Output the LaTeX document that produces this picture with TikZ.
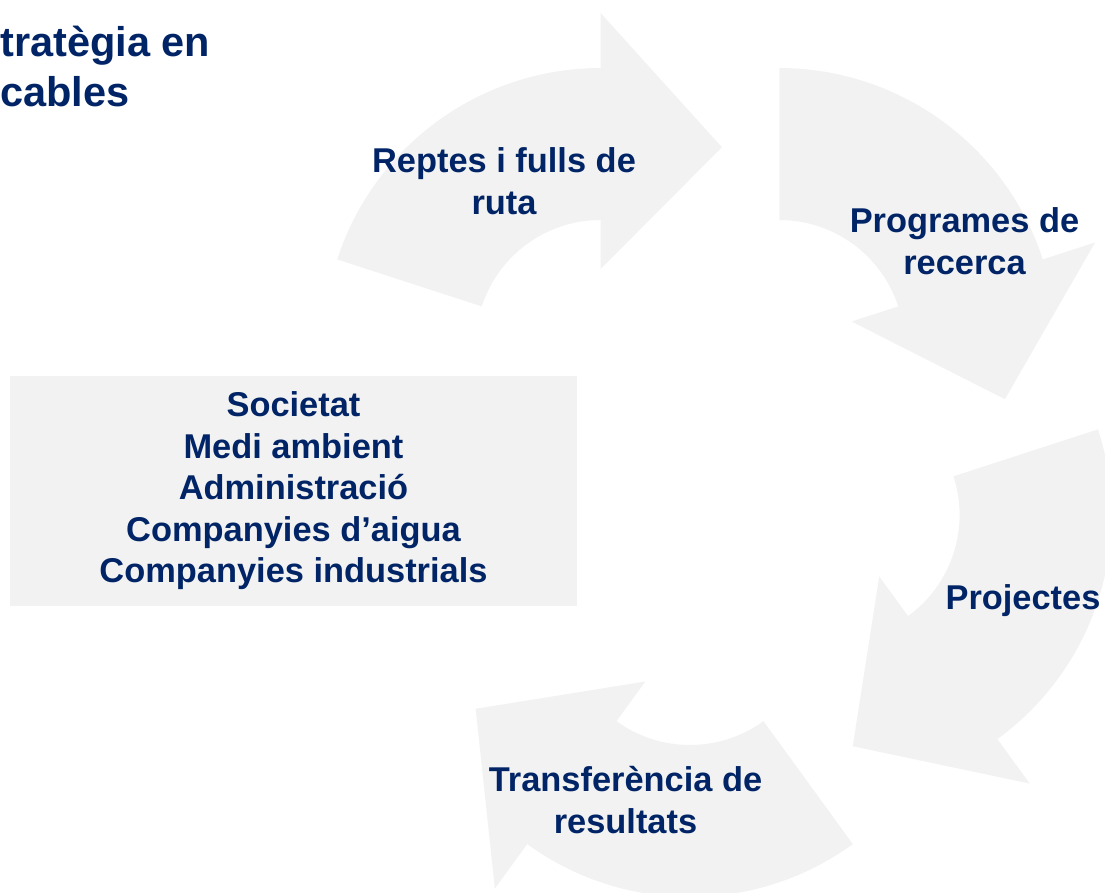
\documentclass[tikz,border=0pt]{standalone}
\usepackage{fontspec}
\setmainfont{Liberation Sans}
\usepackage{color}
\definecolor{mynavy}{RGB}{0,36,102}
\definecolor{mygrey}{RGB}{242,242,242}
\usepackage{tikz}
\usetikzlibrary{calc,positioning}

\begin{document}
\begin{tikzpicture}[
  x=1pt,
  y=1pt,
  mylabel/.style={
    text=mynavy,
    font=\fontsize{34.4}{41.5}\selectfont\bfseries,
    align=center,
    inner sep=0pt
    },
  mybox/.style={
    fill=mygrey,
    minimum width=567pt,
    minimum height=230pt
    }
]

\useasboundingbox (-690,-425) rectangle (415,468);

\foreach \Angulo in {126, 54, -18, -90}
  \fill[mygrey, shift={(\Angulo:152)}]
    ({\Angulo+36}:277) arc[start angle=\Angulo+36, end angle=\Angulo-36, radius=277]
    -- ({\Angulo-36}:332) -- ({\Angulo-67.5}:232) -- ({\Angulo-36}:76) -- ({\Angulo-36}:125)
    arc[start angle=\Angulo-36, end angle=\Angulo+36, radius=125] -- cycle;

\node[mylabel, anchor=base] (reptes) at (-186,253.5) {Reptes i fulls de\\ruta};
\node[mylabel, anchor=base] (programes) at (274.5,193.5) {Programes de\\recerca};
\node[mylabel, anchor=base] (projectes) at (333,-142) {Projectes};
\node[mylabel, anchor=base] (transferencia) at (-64.5,-365.2) {Transferència de\\resultats};

\node[mylabel, mybox] (agents) at (-396.5,-23)
  {
  Societat\\
  Medi ambient\\
  Administració\\
  Companyies d’aigua\\
  Companyies industrials
  };

\node[mylabel, font=\fontsize{41.5}{50}\selectfont\bfseries, align=left, anchor=base west] (titol) at (-690,361)
  {tratègia en\\cables};
\end{tikzpicture}
\end{document}
